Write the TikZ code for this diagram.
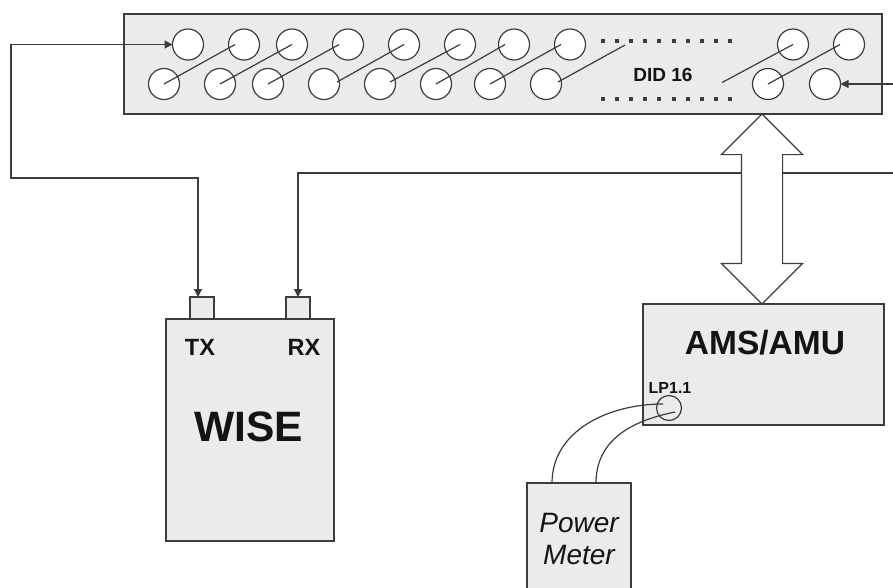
\documentclass[tikz,border=0pt]{standalone}
\usepackage{fontspec}
\setmainfont{Liberation Sans}
\usetikzlibrary{arrows.meta,shapes.arrows}
\definecolor{panel}{HTML}{EBEBEB}
\definecolor{wire}{HTML}{3C3C3C}
\newcommand{\fsz}[1]{\fontsize{#1}{#1}\selectfont}
\begin{document}
\begin{tikzpicture}[x=1pt, y=-1pt, every node/.style={inner sep=0pt, outer sep=0pt, text=black!92},
      box/.style={draw=wire, fill=panel, line width=1.3pt, anchor=north west},
      jack/.style={circle, draw=wire, fill=white, line width=1.2pt, minimum size=31pt},
      port/.style={box, minimum width=24pt, minimum height=22pt},
      bus/.style={double arrow, draw=wire, fill=white, line width=1.2pt, shape border rotate=90, inner sep=20pt, minimum height=190pt, double arrow head extend=20pt},
      lbl/.style={font=\bfseries\fsz{#1}},
      patch/.style={draw=wire, line width=1.2pt},
      arr/.style={-{Stealth[length=8pt,width=8pt,inset=0pt]}, draw=wire, line width=1.2pt},
      darr/.style={{Stealth[length=8pt,width=8pt,inset=0pt]}-{Stealth[length=8pt,width=8pt,inset=0pt]}, draw=wire, line width=1.2pt}]
    \clip (0,0) rectangle (893,587);
    \fill[white] (0,0) rectangle (893,587);
    \node[box, minimum width=758pt, minimum height=100pt] (did) at (124,14) {};
    \node[box, minimum width=168pt, minimum height=222pt] (wise) at (166,319) {};
    \node[port] (tx) at (190,297) {};
    \node[port] (rx) at (286,297) {};
    \node[box, minimum width=241pt, minimum height=121pt] (ams) at (643,304) {};
    \node[box, minimum width=104pt, minimum height=112pt, align=center, font=\itshape\fontsize{28}{32}\selectfont] (meter) at (527,483) {Power\\Meter};
    % jacks of the patch panel
    \foreach \n/\x in {1/188,2/244,3/292,4/348,5/404,6/460,7/514,8/570,9/793,10/849}
      \node[jack] (t\n) at (\x,44.5) {};
    \foreach \n/\x in {1/164,2/220,3/268,4/324,5/380,6/436,7/490,8/546,9/768,10/825}
      \node[jack] (b\n) at (\x,84) {};
    \foreach \a/\b in {1/2,3/4,6/7,7/8}
      \draw[patch] (b\a.center) -- ([xshift=-9pt]t\b.center);
    \draw[patch] (b2.center) -- (t3.center);
    \draw[patch] (b4.center) ++(13pt,2pt) -- (t5.center);
    \draw[patch] (b5.center) ++(10pt,2pt) -- (t6.center);
    \draw[patch] (b8.center) ++(12pt,2pt) -- ++(67pt,37pt);
    \draw[patch] (t9.center) -- ++(-71pt,-38pt);
    \draw[patch] (b9.center) -- ([xshift=-9pt]t10.center);
    \foreach \x in {603,617.1,...,731} {
      \fill[wire] (\x-2,39) rectangle (\x+2,43);
      \fill[wire] (\x-2,97) rectangle (\x+2,101);
    }
    \node[lbl=19] (didtxt) at (663,75) {DID 16};
    \node[lbl=23.5] (txtxt) at (200,347) {TX};
    \node[lbl=23.5] (rxtxt) at (304,347) {RX};
    \node[lbl=42.5] (wisetxt) at (249,427) {WISE};
    \node[lbl=33.5] (amstxt) at (765,343) {AMS/AMU};
    \node[lbl=16] (lptxt) at (670,388) {LP1.1};
    \node[circle, draw=wire, line width=1.2pt, minimum size=25pt] (lp) at (669,408) {};
    % wires
    \coordinate (txbend) at (11,178);
    \coordinate (rxend) at (893,173);
    \coordinate (inend) at (893,84);
    \draw[darr] ([xshift=-4pt]tx.north) |- (txbend) |- (t1.west);
    \draw[arr] (rxend) -| (rx.north);
    \draw[arr] (inend) -- (b10.east);
    \draw[patch] ([xshift=-27pt]meter.north) .. controls +(0,-52) and +(-55,0) .. ([xshift=-6pt,yshift=4pt]lp.center);
    \draw[patch] ([xshift=17pt]meter.north) .. controls +(0,-45) and +(-40,8) .. ([xshift=6pt,yshift=-4pt]lp.center);
    \node[bus] (link) at (762,209) {};
  \end{tikzpicture}
\end{document}
